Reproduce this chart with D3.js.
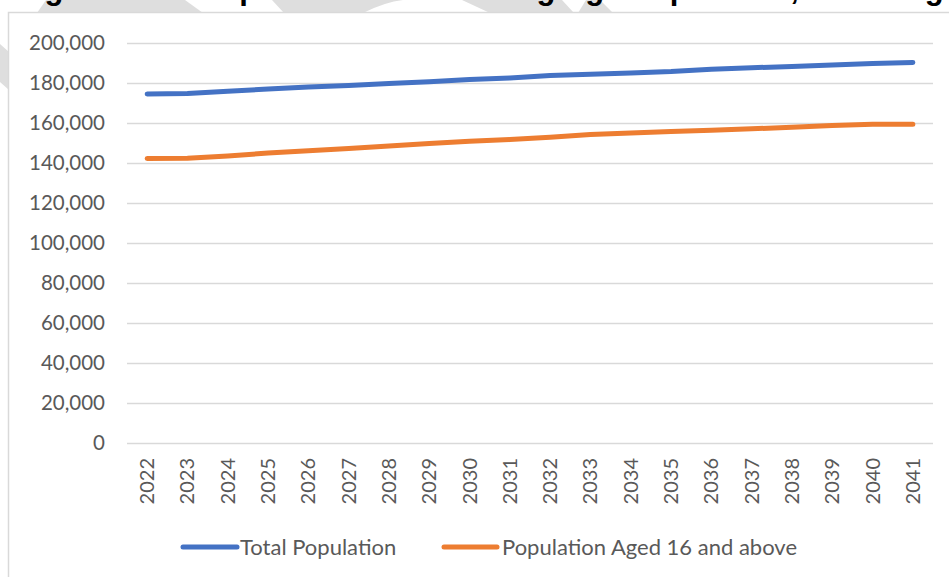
<!DOCTYPE html>
<html><head><meta charset="utf-8">
<script src="https://cdn.jsdelivr.net/npm/d3@7"></script>
<style>
html,body{margin:0;padding:0;background:#fff;overflow:hidden;}
svg{display:block;}
</style></head>
<body>
<svg id="chart" width="949" height="577"></svg>
<script>
// ---- data ----
const years = ["2022","2023","2024","2025","2026","2027","2028","2029","2030","2031","2032","2033","2034","2035","2036","2037","2038","2039","2040","2041"];
const totalPopulation = [174500,174700,175900,177000,178000,178700,179800,180600,181700,182500,183700,184400,185000,185700,186900,187600,188300,189000,189700,190300];
const aged16Plus = [142300,142400,143500,145000,146100,147300,148500,149700,150900,151700,152900,154200,155000,155700,156400,157100,157900,158700,159400,159400];
const yTicks = [0,20000,40000,60000,80000,100000,120000,140000,160000,180000,200000];
const seriesNames = ["Total Population","Population Aged 16 and above"];
const titleText = "Figure 3.10: Population and Working Age Population, Kettering";

(function(){
const svg = d3.select("#chart");
const font = "Lato, 'Open Sans', sans-serif";

// watermark fragments (background)
const wm = svg.append("g").attr("fill","#dedede");
wm.append("path").attr("d","M37,13 L46,0 L185,0 L203,13 Z");
wm.append("path").attr("d","M284,13 L272,0 L403,0 Q385,2 363,13 Z");
wm.append("path").attr("d","M490,13 L462,0 L562,0 L574,13 Z");
wm.append("path").attr("d","M578,13 L586,0 L600,0 L613,13 Z");
wm.append("path").attr("d","M0,44 L9,52 L9,90 L0,82 Z");

// title (cut off at the top, as in the source)
svg.append("text").attr("x",17).attr("y",-1.5)
  .attr("font-family","'Liberation Sans', Arial, sans-serif")
  .attr("font-weight","bold").attr("font-size",31).attr("fill","#000")
  .text(titleText);

// chart frame
svg.append("rect").attr("x",8.5).attr("y",12.5).attr("width",1000).attr("height",1000)
  .attr("fill","#fff").attr("stroke","#d9d9d9").attr("stroke-width",1.5);

const pl = 127, pr = 933, pt = 43, pb = 443;
const x = d3.scaleBand().domain(years).range([pl,pr]).padding(0);
const y = d3.scaleLinear().domain([0,200000]).range([pb,pt]);

// gridlines + y labels via axis
const yAxis = d3.axisLeft(y).tickValues(yTicks).tickSize(-(pr-pl)).tickPadding(22)
  .tickFormat(d3.format(","));
const gy = svg.append("g").attr("transform",`translate(${pl},0)`).call(yAxis);
gy.select(".domain").remove();
gy.selectAll("line").attr("stroke","#d9d9d9").attr("stroke-width",1.6);
gy.selectAll("text").attr("font-family",font).attr("font-size",20.5).attr("fill","#595959");

// x labels via axis
const xAxis = d3.axisBottom(x).tickSize(0).tickPadding(0);
const gx = svg.append("g").attr("transform",`translate(0,${pb})`).call(xAxis);
gx.select(".domain").remove();
gx.selectAll("text").attr("font-family",font).attr("font-size",20).attr("fill","#595959")
  .attr("text-anchor","end").attr("dy",null).attr("y",0)
  .attr("transform","translate(7,15) rotate(-90)");

// lines
const colors = ["#4472C4","#ED7D31"];
const line = d3.line().x((d,i)=>x(years[i])+x.bandwidth()/2).y(d=>y(d));
[totalPopulation, aged16Plus].forEach((s,k)=>{
  svg.append("path").datum(s).attr("d",line).attr("fill","none")
    .attr("stroke",colors[k]).attr("stroke-width",5).attr("stroke-linecap","round").attr("stroke-linejoin","round");
});

// legend
const legY = 547;
const leg = [{x1:183,x2:237,tx:240},{x1:444,x2:497,tx:502}];
leg.forEach((l,k)=>{
  svg.append("line").attr("x1",l.x1).attr("x2",l.x2).attr("y1",legY).attr("y2",legY)
    .attr("stroke",colors[k]).attr("stroke-width",5).attr("stroke-linecap","round");
  svg.append("text").attr("x",l.tx).attr("y",legY+8).attr("font-family",font)
    .attr("font-size",22).attr("fill","#595959").text(seriesNames[k]);
});
})();
</script>
</body></html>
